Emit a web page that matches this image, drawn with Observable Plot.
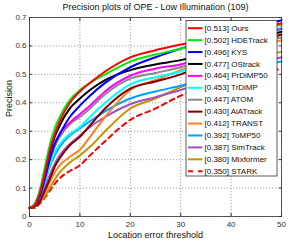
<!DOCTYPE html>
<html><head><meta charset="utf-8">
<script src="https://cdn.jsdelivr.net/npm/d3@7"></script>
<script src="https://cdn.jsdelivr.net/npm/@observablehq/plot@0.6"></script>
<style>body{margin:0;background:#fff}</style>
</head><body><div id="chart"></div>
<script>
const thresholds = [0,1,2,3,4,5,6,8,10,12,15,20,25,30,40,50];
const trackers = ["Ours","HDETrack","KYS","OStrack","PrDiMP50","TrDiMP","ATOM","AiATrack","TRANST","ToMP50","SimTrack","Mixformer","STARK"];
const scores = ["0.513","0.502","0.496","0.477","0.464","0.453","0.447","0.430","0.412","0.392","0.387","0.380","0.350"];
const colors = ["#ff0000","#00ee00","#0000ff","#000000","#ff00ff","#00ffff","#888888","#800000","#ff8020","#00a0ff","#a050c0","#c89000","#ff0000"];
const ours      = [0.03,0.04,0.08,0.15,0.23,0.29,0.335,0.40,0.44,0.47,0.51,0.56,0.585,0.605,0.645,0.68];
const hdetrack  = [0.03,0.045,0.09,0.17,0.25,0.31,0.35,0.41,0.445,0.47,0.50,0.545,0.57,0.59,0.635,0.675];
const kys       = [0.03,0.04,0.07,0.13,0.20,0.255,0.29,0.35,0.39,0.425,0.47,0.525,0.56,0.59,0.645,0.69];
const ostrack   = [0.03,0.04,0.08,0.15,0.22,0.28,0.32,0.38,0.415,0.445,0.48,0.515,0.535,0.55,0.60,0.65];
const prdimp50  = [0.03,0.04,0.07,0.13,0.20,0.255,0.29,0.33,0.36,0.39,0.44,0.495,0.52,0.535,0.60,0.66];
const trdimp    = [0.03,0.04,0.07,0.12,0.18,0.225,0.255,0.29,0.315,0.35,0.40,0.465,0.49,0.51,0.595,0.665];
const atom      = [0.03,0.04,0.07,0.12,0.19,0.245,0.28,0.325,0.35,0.38,0.43,0.485,0.505,0.525,0.59,0.63];
const aiatrack  = [0.03,0.035,0.05,0.09,0.13,0.175,0.205,0.25,0.28,0.32,0.38,0.45,0.475,0.50,0.58,0.64];
const transt    = [0.03,0.035,0.05,0.08,0.12,0.155,0.18,0.21,0.235,0.28,0.35,0.445,0.48,0.515,0.575,0.62];
const tomp50    = [0.03,0.04,0.07,0.12,0.175,0.215,0.245,0.285,0.31,0.335,0.37,0.415,0.44,0.46,0.51,0.545];
const simtrack  = [0.03,0.035,0.06,0.10,0.145,0.185,0.215,0.255,0.285,0.315,0.35,0.395,0.42,0.445,0.51,0.56];
const mixformer = [0.03,0.035,0.05,0.07,0.10,0.13,0.155,0.19,0.215,0.245,0.30,0.38,0.415,0.455,0.53,0.58];
const stark     = [0.03,0.03,0.045,0.065,0.09,0.115,0.135,0.16,0.18,0.215,0.265,0.34,0.38,0.425,0.48,0.52];
const xTicks = [0,10,20,30,40,50];
const yTicks = [0,0.1,0.2,0.3,0.4,0.5,0.6,0.7];
const title = "Precision plots of OPE - Low Illumination (109)";
const xLabel = "Location error threshold";
const yLabel = "Precision";

const series = [ours,hdetrack,kys,ostrack,prdimp50,trdimp,atom,aiatrack,transt,tomp50,simtrack,mixformer,stark];
const rows = [];
series.forEach((vals,i)=>vals.forEach((v,j)=>rows.push({tracker:trackers[i], i, x:thresholds[j], y:v})));
const drawOrder = d3.range(trackers.length).reverse();

const W=299,H=242,mL=29,mR=18,mT=17,mB=26;
const xs = d3.scaleLinear([0,50],[mL,W-mR]);
const ys = d3.scaleLinear([0,0.7],[H-mB,mT]);
// legend layout (pixel) converted through scales
const legend = trackers.map((t,i)=>({
  i, label:`[${scores[i]}] ${t}`, color:colors[i], dashed: t==="STARK",
  y: ys.invert(27.7 + i*11.92)
}));
const lx1 = xs.invert(188), lx2 = xs.invert(202.5), ltx = xs.invert(204);
const box = [{x1: xs.invert(186), x2: xs.invert(277), y1: ys.invert(176), y2: ys.invert(20.5)}];

const marks = [
  Plot.gridX(xTicks,{stroke:"#555",strokeOpacity:0.8,strokeDasharray:"1.2,1.8",strokeWidth:0.7}),
  Plot.gridY(yTicks,{stroke:"#555",strokeOpacity:0.8,strokeDasharray:"1.2,1.8",strokeWidth:0.7}),
];
for (const i of drawOrder) {
  const d = rows.filter(r=>r.i===i);
  marks.push(Plot.line(d,{x:"x",y:"y",stroke:colors[i],strokeWidth:2,curve:"monotone-x",
    strokeDasharray: trackers[i]==="STARK" ? "5,4" : null}));
}
marks.push(
  Plot.rect(box,{x1:"x1",x2:"x2",y1:"y1",y2:"y2",fill:"white",stroke:"#333",strokeWidth:0.8}),
  Plot.ruleY(legend.filter(d=>!d.dashed),{y:"y",x1:()=>lx1,x2:()=>lx2,stroke:"color",strokeWidth:2}),
  Plot.ruleY(legend.filter(d=>d.dashed),{y:"y",x1:()=>lx1,x2:()=>lx2,stroke:"color",strokeWidth:2,strokeDasharray:"5,5"}),
  Plot.text(legend,{x:()=>ltx,y:"y",text:"label",textAnchor:"start",fontSize:8,fill:"#111"}),
  Plot.frame({stroke:"#333",strokeWidth:0.8}),
  Plot.axisX(xTicks,{tickSize:0,tickPadding:5,label:null,fontSize:8,fill:"#333"}),
  Plot.axisY(yTicks,{tickSize:0,tickPadding:3,label:null,fontSize:8,fill:"#333",tickFormat:d=>String(+d.toFixed(1))}),
  Plot.axisY(yTicks,{anchor:"right",tickSize:-3,label:null,tickFormat:()=>"",stroke:"#333"}),
  Plot.axisY(yTicks,{anchor:"left",tickSize:-3,label:null,tickFormat:()=>"",stroke:"#333"}),
  Plot.axisX(xTicks,{anchor:"bottom",tickSize:-3,label:null,tickFormat:()=>"",stroke:"#333"}),
  Plot.axisX(xTicks,{anchor:"top",tickSize:-3,label:null,tickFormat:()=>"",stroke:"#333"}),
  Plot.text([title],{frameAnchor:"top",dy:-10,lineAnchor:"middle",text:d=>d,fontSize:9,fill:"#111"}),
  Plot.text([xLabel],{frameAnchor:"bottom",dy:19,lineAnchor:"middle",text:d=>d,fontSize:9,fill:"#111"}),
  Plot.text([yLabel],{frameAnchor:"left",dx:-20,rotate:-90,text:d=>d,fontSize:9,fill:"#111"})
);

const chart = Plot.plot({
  width:W,height:H,marginLeft:mL,marginRight:mR,marginTop:mT,marginBottom:mB,
  x:{domain:[0,50],axis:null},
  y:{domain:[0,0.7],axis:null},
  style:{fontFamily:"'Liberation Sans', Arial, sans-serif",background:"white",overflow:"visible"},
  marks
});
document.getElementById("chart").appendChild(chart);
</script></body></html>
